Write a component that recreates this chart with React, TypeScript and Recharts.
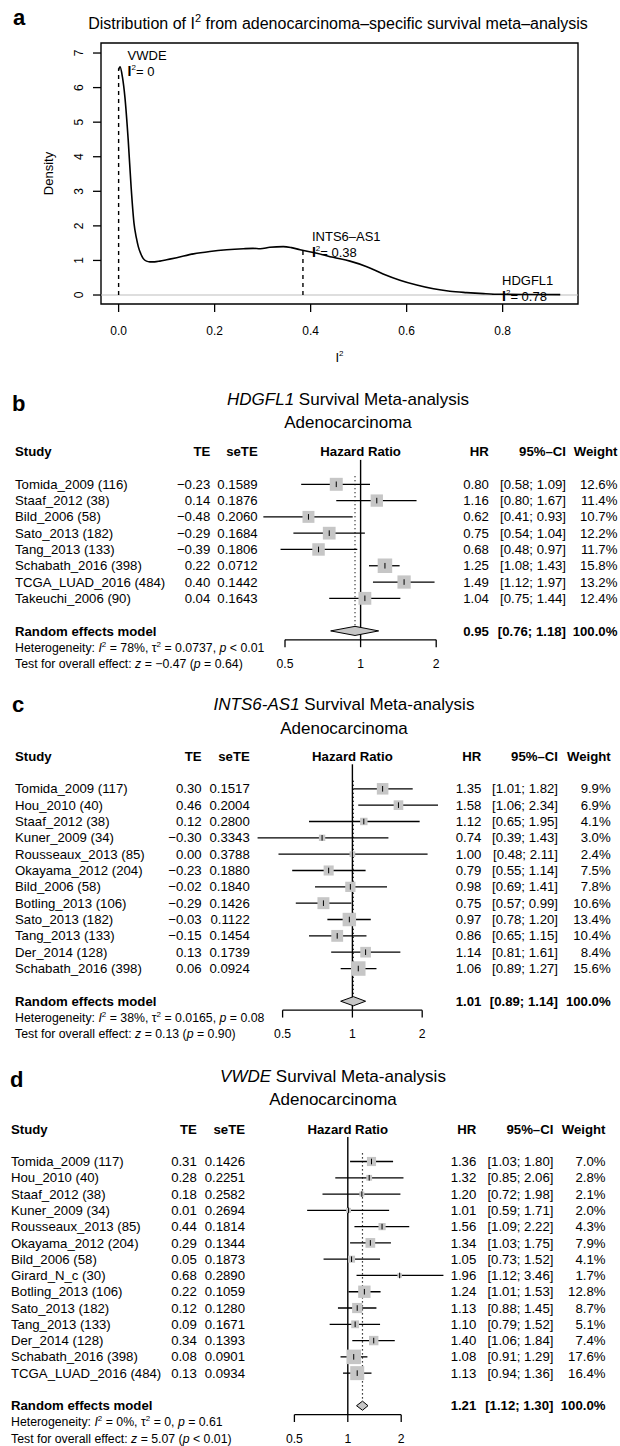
import React from 'react';
import { ComposedChart, Line, Scatter, XAxis, YAxis, ReferenceLine, ReferenceArea, ErrorBar } from 'recharts';

const FONT = "'Liberation Sans', Arial, Helvetica, sans-serif";

// ---------------- Panel a: density of I^2 ----------------
const densityI2 = [0, 0.003, 0.008, 0.013, 0.02, 0.026, 0.032, 0.037, 0.041, 0.046, 0.051, 0.058, 0.065, 0.075, 0.086, 0.1, 0.121, 0.156, 0.19, 0.225, 0.26, 0.28, 0.295, 0.315, 0.343, 0.36, 0.378, 0.413, 0.447, 0.482, 0.517, 0.551, 0.586, 0.621, 0.656, 0.69, 0.725, 0.76, 0.795, 0.85, 0.92];
const densityValue = [6.52, 6.6, 6.3, 5.74, 4.48, 3.13, 2.08, 1.65, 1.4, 1.2, 1.06, 0.98, 0.96, 0.96, 0.98, 1.02, 1.08, 1.19, 1.26, 1.31, 1.34, 1.35, 1.34, 1.38, 1.4, 1.37, 1.31, 1.21, 1.09, 0.98, 0.82, 0.61, 0.43, 0.29, 0.18, 0.11, 0.07, 0.04, 0.02, 0.015, 0.01];
const markerGenes = ['VWDE', 'INTS6\u2013AS1', 'HDGFL1'];
const markerI2 = [0, 0.384, 0.78];
const markerDensity = [6.55, 1.3, 0.03];
const markerI2Labels = ['0', '0.38', '0.78'];
const densityXTicks = [0, 0.2, 0.4, 0.6, 0.8];
const densityYTicks = [0, 1, 2, 3, 4, 5, 6, 7];

// ---------------- Panel b: HDGFL1 ----------------
const bStudies = ['Tomida_2009 (116)', 'Staaf_2012 (38)', 'Bild_2006 (58)', 'Sato_2013 (182)', 'Tang_2013 (133)', 'Schabath_2016 (398)', 'TCGA_LUAD_2016 (484)', 'Takeuchi_2006 (90)'];
const bTE = [-0.23, 0.14, -0.48, -0.29, -0.39, 0.22, 0.4, 0.04];
const bSeTE = [0.1589, 0.1876, 0.206, 0.1684, 0.1806, 0.0712, 0.1442, 0.1643];
const bHR = [0.8, 1.16, 0.62, 0.75, 0.68, 1.25, 1.49, 1.04];
const bLower = [0.58, 0.8, 0.41, 0.54, 0.48, 1.08, 1.12, 0.75];
const bUpper = [1.09, 1.67, 0.93, 1.04, 0.97, 1.43, 1.97, 1.44];
const bWeight = [12.6, 11.4, 10.7, 12.2, 11.7, 15.8, 13.2, 12.4];
const bPooled = [0.95, 0.76, 1.18];
const bHet = ['78%', '0.0737', '< 0.01'];
const bTest = ['\u22120.47', '= 0.64'];

// ---------------- Panel c: INTS6-AS1 ----------------
const cStudies = ['Tomida_2009 (117)', 'Hou_2010 (40)', 'Staaf_2012 (38)', 'Kuner_2009 (34)', 'Rousseaux_2013 (85)', 'Okayama_2012 (204)', 'Bild_2006 (58)', 'Botling_2013 (106)', 'Sato_2013 (182)', 'Tang_2013 (133)', 'Der_2014 (128)', 'Schabath_2016 (398)'];
const cTE = [0.3, 0.46, 0.12, -0.3, 0.0, -0.23, -0.02, -0.29, -0.03, -0.15, 0.13, 0.06];
const cSeTE = [0.1517, 0.2004, 0.28, 0.3343, 0.3788, 0.188, 0.184, 0.1426, 0.1122, 0.1454, 0.1739, 0.0924];
const cHR = [1.35, 1.58, 1.12, 0.74, 1.0, 0.79, 0.98, 0.75, 0.97, 0.86, 1.14, 1.06];
const cLower = [1.01, 1.06, 0.65, 0.39, 0.48, 0.55, 0.69, 0.57, 0.78, 0.65, 0.81, 0.89];
const cUpper = [1.82, 2.34, 1.95, 1.43, 2.11, 1.14, 1.41, 0.99, 1.2, 1.15, 1.61, 1.27];
const cWeight = [9.9, 6.9, 4.1, 3.0, 2.4, 7.5, 7.8, 10.6, 13.4, 10.4, 8.4, 15.6];
const cPooled = [1.01, 0.89, 1.14];
const cHet = ['38%', '0.0165', '= 0.08'];
const cTest = ['0.13', '= 0.90'];

// ---------------- Panel d: VWDE ----------------
const dStudies = ['Tomida_2009 (117)', 'Hou_2010 (40)', 'Staaf_2012 (38)', 'Kuner_2009 (34)', 'Rousseaux_2013 (85)', 'Okayama_2012 (204)', 'Bild_2006 (58)', 'Girard_N_c (30)', 'Botling_2013 (106)', 'Sato_2013 (182)', 'Tang_2013 (133)', 'Der_2014 (128)', 'Schabath_2016 (398)', 'TCGA_LUAD_2016 (484)'];
const dTE = [0.31, 0.28, 0.18, 0.01, 0.44, 0.29, 0.05, 0.68, 0.22, 0.12, 0.09, 0.34, 0.08, 0.13];
const dSeTE = [0.1426, 0.2251, 0.2582, 0.2694, 0.1814, 0.1344, 0.1873, 0.289, 0.1059, 0.128, 0.1671, 0.1393, 0.0901, 0.0934];
const dHR = [1.36, 1.32, 1.2, 1.01, 1.56, 1.34, 1.05, 1.96, 1.24, 1.13, 1.1, 1.4, 1.08, 1.13];
const dLower = [1.03, 0.85, 0.72, 0.59, 1.09, 1.03, 0.73, 1.12, 1.01, 0.88, 0.79, 1.06, 0.91, 0.94];
const dUpper = [1.8, 2.06, 1.98, 1.71, 2.22, 1.75, 1.52, 3.46, 1.53, 1.45, 1.52, 1.84, 1.29, 1.36];
const dWeight = [7.0, 2.8, 2.1, 2.0, 4.3, 7.9, 4.1, 1.7, 12.8, 8.7, 5.1, 7.4, 17.6, 16.4];
const dPooled = [1.21, 1.12, 1.3];
const dHet = ['0%', '0', '= 0.61'];
const dTest = ['5.07', '< 0.01'];

const forestTickValues = [0.5, 1, 2];
const forestTickLabels = ['0.5', '1', '2'];

// ---------------- helpers ----------------
const fmt = (v: number, d: number) => v.toFixed(d).replace('-', '\u2212');
const CI_HEADER = '95%\u2013CI';
const TITLE_A_REST = ' from adenocarcinoma\u2013specific survival meta\u2013analysis';

type Layout = {
  top: number; height: number; c1: number; s: number; x1: number; k: number;
  cols: { study: number; te: number; se: number; hr: number; ci: number; wt: number };
};

type ForestData = {
  studies: string[]; te: number[]; se: number[]; hr: number[]; lo: number[]; hi: number[]; w: number[];
  pooled: number[]; het: string[]; test: string[];
};

const TXT = 13.2;
const SMALL = 12.3;
const SQUARE_MAX = 14.5;
const GREY = '#c6c6c6';

function Forest({ data, layout }: { data: ForestData; layout: Layout }) {
  const n = data.studies.length;
  const YW = 100;
  const W = 620;
  const xDomain = [(YW - layout.x1) / layout.k, (W - layout.x1) / layout.k];
  const rowAt = (p: number) => (p - layout.c1) / layout.s + 1;
  const yDomain = [rowAt(layout.top), rowAt(layout.top + layout.height)];
  const maxW = Math.max(...data.w);
  const pts = data.studies.map((_, i) => {
    const x = Math.log2(data.hr[i]);
    return { x, y: i + 1, w: data.w[i], err: [x - Math.log2(data.lo[i]), Math.log2(data.hi[i]) - x] };
  });
  const pooledRow = n + 2;
  const px = Math.log2(data.pooled[0]);
  const plo = Math.log2(data.pooled[1]);
  const phi = Math.log2(data.pooled[2]);
  const dh = 0.28;
  const diamond = [
    { x: plo, y: pooledRow }, { x: px, y: pooledRow - dh }, { x: phi, y: pooledRow },
    { x: px, y: pooledRow + dh }, { x: plo, y: pooledRow },
  ];
  const axisRow = n + 2.55;
  const tickLabelPts = forestTickValues.map((v, i) => ({ x: Math.log2(v), y: n + 4, label: forestTickLabels[i] }));
  const rowTicks = [-1, ...pts.map((p) => p.y), n + 2, n + 3, n + 4];
  const c = layout.cols;

  const RowTick = (props: any) => {
    const { y, payload } = props;
    const v = payload.value;
    const b = y + 4.6;
    const common = { fontFamily: FONT, fill: '#000' } as any;
    if (v === -1) {
      return (
        <g fontWeight="bold" fontSize={TXT} {...common}>
          <text x={c.study} y={b}>Study</text>
          <text x={c.te} y={b} textAnchor="end">TE</text>
          <text x={c.se} y={b} textAnchor="end">seTE</text>
          <text x={layout.x1} y={b} textAnchor="middle">Hazard Ratio</text>
          <text x={c.hr} y={b} textAnchor="end">HR</text>
          <text x={c.ci} y={b} textAnchor="end">{CI_HEADER}</text>
          <text x={c.wt} y={b} textAnchor="end">Weight</text>
        </g>
      );
    }
    if (v >= 1 && v <= n) {
      const i = v - 1;
      return (
        <g fontSize={TXT} {...common}>
          <text x={c.study} y={b}>{data.studies[i]}</text>
          <text x={c.te} y={b} textAnchor="end">{fmt(data.te[i], 2)}</text>
          <text x={c.se} y={b} textAnchor="end">{fmt(data.se[i], 4)}</text>
          <text x={c.hr} y={b} textAnchor="end">{fmt(data.hr[i], 2)}</text>
          <text x={c.ci} y={b} textAnchor="end">{`[${fmt(data.lo[i], 2)}; ${fmt(data.hi[i], 2)}]`}</text>
          <text x={c.wt} y={b} textAnchor="end">{`${data.w[i].toFixed(1)}%`}</text>
        </g>
      );
    }
    if (v === n + 2) {
      return (
        <g fontWeight="bold" fontSize={TXT} {...common}>
          <text x={c.study} y={b}>Random effects model</text>
          <text x={c.hr} y={b} textAnchor="end">{fmt(data.pooled[0], 2)}</text>
          <text x={c.ci} y={b} textAnchor="end">{`[${fmt(data.pooled[1], 2)}; ${fmt(data.pooled[2], 2)}]`}</text>
          <text x={c.wt} y={b} textAnchor="end">100.0%</text>
        </g>
      );
    }
    if (v === n + 3) {
      return (
        <text x={c.study} y={y + 4.3} fontSize={SMALL} {...common}>
          <tspan>Heterogeneity: </tspan>
          <tspan fontStyle="italic">I</tspan>
          <tspan fontSize={8} dy={-5}>2</tspan>
          <tspan dy={5}>{` = ${data.het[0]}, \u03c4`}</tspan>
          <tspan fontSize={8} dy={-5}>2</tspan>
          <tspan dy={5}>{` = ${data.het[1]}, `}</tspan>
          <tspan fontStyle="italic">p</tspan>
          <tspan>{` ${data.het[2]}`}</tspan>
        </text>
      );
    }
    if (v === n + 4) {
      return (
        <text x={c.study} y={y + 4.3} fontSize={SMALL} {...common}>
          <tspan>Test for overall effect: </tspan>
          <tspan fontStyle="italic">z</tspan>
          <tspan>{` = ${data.test[0]} (`}</tspan>
          <tspan fontStyle="italic">p</tspan>
          <tspan>{` ${data.test[1]})`}</tspan>
        </text>
      );
    }
    return <g />;
  };

  const SquareShape = (p: any) => {
    const side = SQUARE_MAX * Math.sqrt(p.payload.w / maxW);
    return <rect x={p.cx - side / 2} y={p.cy - side / 2} width={side} height={side} fill={GREY} />;
  };
  const TickShape = (p: any) => (
    <line x1={p.cx} x2={p.cx} y1={p.cy - 2.8} y2={p.cy + 2.8} stroke="#000" strokeWidth={1} />
  );
  const LabelShape = (p: any) => (
    <text x={p.cx} y={p.cy + 4.3} textAnchor="middle" fontSize={12.2} fontFamily={FONT} fill="#000">
      {p.payload.label}
    </text>
  );

  return (
    <div style={{ position: 'absolute', left: 0, top: layout.top, width: W, height: layout.height }}>
      <ComposedChart width={W} height={layout.height} margin={{ top: 0, right: 0, bottom: 0, left: 0 }}>
        <XAxis type="number" dataKey="x" domain={xDomain} allowDataOverflow hide />
        <YAxis
          type="number"
          domain={yDomain}
          allowDataOverflow
          reversed
          width={YW}
          ticks={rowTicks}
          interval={0}
          axisLine={false}
          tickLine={false}
          tick={<RowTick />}
        />
        <ReferenceLine segment={[{ x: 0, y: -0.5 }, { x: 0, y: axisRow }]} stroke="#000" strokeWidth={1.4} />
        <ReferenceLine
          segment={[{ x: px, y: 0.5 }, { x: px, y: pooledRow - dh }]}
          stroke="#000"
          strokeWidth={1.2}
          strokeDasharray="1.2 2.8"
        />
        <ReferenceLine
          segment={[{ x: Math.log2(forestTickValues[0]), y: axisRow }, { x: Math.log2(forestTickValues[2]), y: axisRow }]}
          stroke="#000"
          strokeWidth={1.3}
        />
        {forestTickValues.map((v) => (
          <ReferenceLine
            key={v}
            segment={[{ x: Math.log2(v), y: axisRow }, { x: Math.log2(v), y: axisRow + 0.45 }]}
            stroke="#000"
            strokeWidth={1.3}
          />
        ))}
        <Scatter data={pts} dataKey="y" shape={SquareShape} isAnimationActive={false} />
        <Scatter data={pts} dataKey="y" shape={TickShape} isAnimationActive={false}>
          <ErrorBar dataKey="err" direction="x" width={0} stroke="#000" strokeWidth={1.3} isAnimationActive={false} />
        </Scatter>
        <Scatter
          data={diamond}
          dataKey="y"
          shape={() => <g />}
          line={{ stroke: '#000', strokeWidth: 1, fill: GREY }}
          lineType="joint"
          lineJointType="linear"
          isAnimationActive={false}
        />
        <Scatter data={tickLabelPts} dataKey="y" shape={LabelShape} isAnimationActive={false} />
      </ComposedChart>
    </div>
  );
}

function DensityPanel() {
  const curve = densityI2.map((x, i) => ({ x, y: densityValue[i] }));
  const markers = markerGenes.map((g, i) => ({ x: markerI2[i], y: markerDensity[i], name: g, label: markerI2Labels[i] }));
  const xDom = [-0.0367, 0.957];
  const yDom = [-0.26, 7.29];
  const MarkerLabel = (p: any) => (
    <g fontFamily={FONT} fontSize={13} fill="#000">
      <text x={p.cx + 9} y={p.cy - 9}>{p.payload.name}</text>
      <text x={p.cx + 9} y={p.cy + 7}>
        <tspan fontWeight="bold" fontSize={14}>I</tspan>
        <tspan fontSize={8} dy={-6}>2</tspan>
        <tspan dy={6}>{`= ${p.payload.label}`}</tspan>
      </text>
    </g>
  );
  const RotTick = (p: any) => (
    <text
      x={83.5}
      y={p.y}
      transform={`rotate(-90 83.5 ${p.y})`}
      textAnchor="middle"
      fontSize={12}
      fontFamily={FONT}
      fill="#000"
    >
      {p.payload.value}
    </text>
  );
  return (
    <div style={{ position: 'absolute', left: 0, top: 0, width: 620, height: 380 }}>
      <ComposedChart width={620} height={380} data={curve} margin={{ top: 43, right: 42, bottom: 0, left: 0 }}>
        <XAxis
          type="number"
          dataKey="x"
          domain={xDom}
          allowDataOverflow
          ticks={densityXTicks}
          interval={0}
          tickFormatter={(v: number) => v.toFixed(1)}
          axisLine={false}
          tickSize={8}
          tickMargin={14}
          tickLine={{ stroke: '#000', strokeWidth: 1.3 }}
          tick={{ fontSize: 12, fill: '#000', fontFamily: FONT }}
          height={76}
        />
        <YAxis
          type="number"
          domain={yDom}
          allowDataOverflow
          ticks={densityYTicks}
          interval={0}
          width={101}
          axisLine={false}
          tickSize={8}
          tickLine={{ stroke: '#000', strokeWidth: 1.3 }}
          tick={<RotTick />}
        />
        <ReferenceArea x1={xDom[0]} x2={xDom[1]} y1={yDom[0]} y2={yDom[1]} fill="none" fillOpacity={0} stroke="#000" strokeWidth={1.4} ifOverflow="visible" />
        <ReferenceLine y={0} stroke="#bdbdbd" strokeWidth={1} />
        {markers.map((m) => (
          <ReferenceLine
            key={m.name}
            segment={[{ x: m.x, y: 0 }, { x: m.x, y: m.y }]}
            stroke="#000"
            strokeWidth={1.4}
            strokeDasharray="4 4"
          />
        ))}
        <Line dataKey="y" type="monotone" stroke="#000" strokeWidth={1.6} dot={false} isAnimationActive={false} />
        <Scatter data={markers} dataKey="y" shape={MarkerLabel} isAnimationActive={false} />
      </ComposedChart>
    </div>
  );
}

const layoutB: Layout = { top: 440, height: 240, c1: 484.3, s: 16.29, x1: 360.6, k: 75.6, cols: { study: 15, te: 210.3, se: 257.7, hr: 488.9, ci: 566, wt: 617.4 } };
const layoutC: Layout = { top: 745, height: 300, c1: 788.8, s: 16.34, x1: 352.4, k: 69.8, cols: { study: 15, te: 201.6, se: 249.8, hr: 481.4, ci: 558, wt: 610.7 } };
const layoutD: Layout = { top: 1115, height: 331, c1: 1161.5, s: 16.28, x1: 347.8, k: 53.4, cols: { study: 11, te: 196.8, se: 245, hr: 476.3, ci: 553.4, wt: 605.5 } };

const dataB: ForestData = { studies: bStudies, te: bTE, se: bSeTE, hr: bHR, lo: bLower, hi: bUpper, w: bWeight, pooled: bPooled, het: bHet, test: bTest };
const dataC: ForestData = { studies: cStudies, te: cTE, se: cSeTE, hr: cHR, lo: cLower, hi: cUpper, w: cWeight, pooled: cPooled, het: cHet, test: cTest };
const dataD: ForestData = { studies: dStudies, te: dTE, se: dSeTE, hr: dHR, lo: dLower, hi: dUpper, w: dWeight, pooled: dPooled, het: dHet, test: dTest };

function ForestTitle({ letter, lx, ly, gene, cx, y1, y2 }: any) {
  return (
    <g fontFamily={FONT} fill="#000">
      <text x={lx} y={ly} fontSize={22} fontWeight="bold">{letter}</text>
      <text x={cx} y={y1} fontSize={17} textAnchor="middle">
        <tspan fontStyle="italic">{gene}</tspan>
        <tspan> Survival Meta-analysis</tspan>
      </text>
      <text x={cx} y={y2} fontSize={17} textAnchor="middle">Adenocarcinoma</text>
    </g>
  );
}

export default function App() {
  return (
    <div style={{ position: 'absolute', left: 0, top: 0, width: 620, height: 1446, background: '#fff', overflow: 'hidden' }}>
      <DensityPanel />
      <Forest data={dataB} layout={layoutB} />
      <Forest data={dataC} layout={layoutC} />
      <Forest data={dataD} layout={layoutD} />
      <svg width={620} height={1446} style={{ position: 'absolute', left: 0, top: 0, pointerEvents: 'none' }}>
        <g fontFamily={FONT} fill="#000">
          <text x={13} y={25} fontSize={22} fontWeight="bold">a</text>
          <text x={338} y={28.5} fontSize={16} textAnchor="middle">
            <tspan>Distribution of I</tspan>
            <tspan fontSize={11} dy={-7}>2</tspan>
            <tspan dy={7}>{TITLE_A_REST}</tspan>
          </text>
          <text x={53} y={173.5} fontSize={13} textAnchor="middle" transform="rotate(-90 53 173.5)">Density</text>
          <text x={339.5} y={362} fontSize={13} textAnchor="middle">
            <tspan>I</tspan>
            <tspan fontSize={8} dy={-6}>2</tspan>
          </text>
        </g>
        <ForestTitle letter="b" lx={12} ly={411} gene="HDGFL1" cx={348} y1={405} y2={428} />
        <ForestTitle letter="c" lx={12} ly={712} gene="INTS6-AS1" cx={344} y1={710} y2={734} />
        <ForestTitle letter="d" lx={10} ly={1087} gene="VWDE" cx={333} y1={1082} y2={1105} />
      </svg>
    </div>
  );
}
